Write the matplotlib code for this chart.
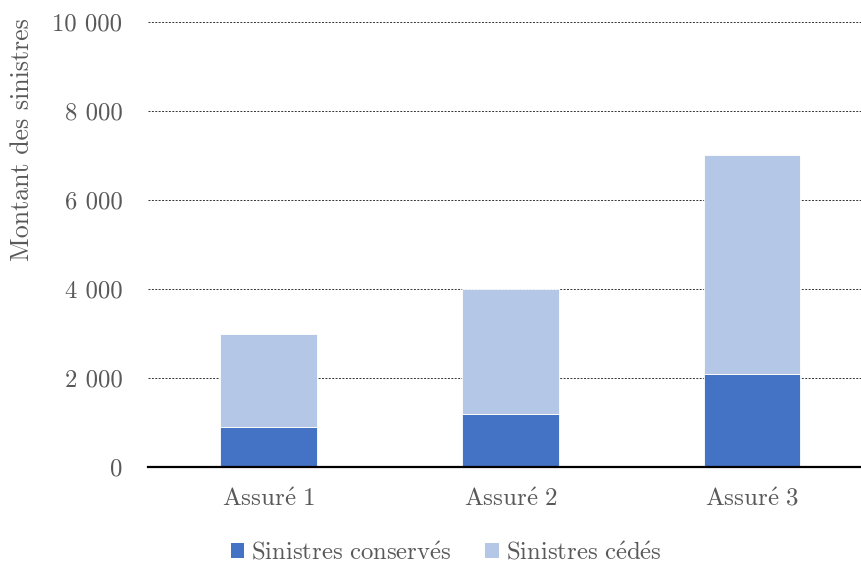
import numpy as np
import matplotlib.pyplot as plt
from matplotlib.patches import Patch

plt.rcParams['font.family'] = ['cmr10', 'STIXGeneral']
plt.rcParams['mathtext.fontset'] = 'cm'
plt.rcParams['axes.formatter.use_mathtext'] = True

assures = [r'$\mathrm{Assur\acute{e}\ 1}$', r'$\mathrm{Assur\acute{e}\ 2}$', r'$\mathrm{Assur\acute{e}\ 3}$']
conserves = [900, 1200, 2100]
cedes = [2100, 2800, 4900]
yticks = [0, 2000, 4000, 6000, 8000, 10000]
ytick_labels = ['0', '2 000', '4 000', '6 000', '8 000', '10 000']

dark = '#4472C4'
light = '#B4C7E7'
grey = '#595959'

fig = plt.figure(figsize=(8.62, 5.64), dpi=100)
ax = fig.add_axes([148 / 862, 97 / 564, 714 / 862, 445 / 564])

x = np.arange(len(assures))
ax.bar(x, conserves, width=0.4, color=dark, edgecolor='white', linewidth=0.6, zorder=3)
ax.bar(x, cedes, width=0.4, bottom=conserves, color=light, edgecolor='white', linewidth=0.6, zorder=3)

ax.set_xlim(-0.5, 2.455)
ax.set_ylim(0, 10000)
ax.set_yticks(yticks)
ax.set_yticklabels(ytick_labels)
ax.set_xticks(x)
ax.set_xticklabels(assures)
ax.tick_params(axis='y', length=0, pad=18.5, labelsize=17.8, labelcolor=grey)
ax.tick_params(axis='x', length=0, pad=15, labelsize=18, labelcolor=grey)

for v in yticks[1:]:
    ax.axhline(v, color='#333333', linestyle=(0, (2, 1.5)), linewidth=0.7, zorder=1)

for side in ['top', 'right', 'left']:
    ax.spines[side].set_visible(False)
ax.spines['bottom'].set_linewidth(1.6)
ax.spines['bottom'].set_color('black')
ax.spines['bottom'].set_zorder(4)

fig.text(22 / 862, 1 - 140 / 564, 'Montant des sinistres', rotation=90,
         ha='center', va='center', fontsize=18.6, color=grey)

handles = [Patch(facecolor=dark, label=r'$\mathrm{Sinistres\ conserv\acute{e}s}$'),
           Patch(facecolor=light, label=r'$\mathrm{Sinistres\ c\acute{e}d\acute{e}s}$')]
leg = fig.legend(handles=handles, loc='center', bbox_to_anchor=(446 / 862, 1 - 553 / 564),
                 ncol=2, frameon=False, fontsize=17.8, handlelength=0.55, handleheight=0.55,
                 handletextpad=0.28, columnspacing=1.36, borderpad=0)
for t in leg.get_texts():
    t.set_color(grey)

fig.savefig('out.png', dpi=100)
